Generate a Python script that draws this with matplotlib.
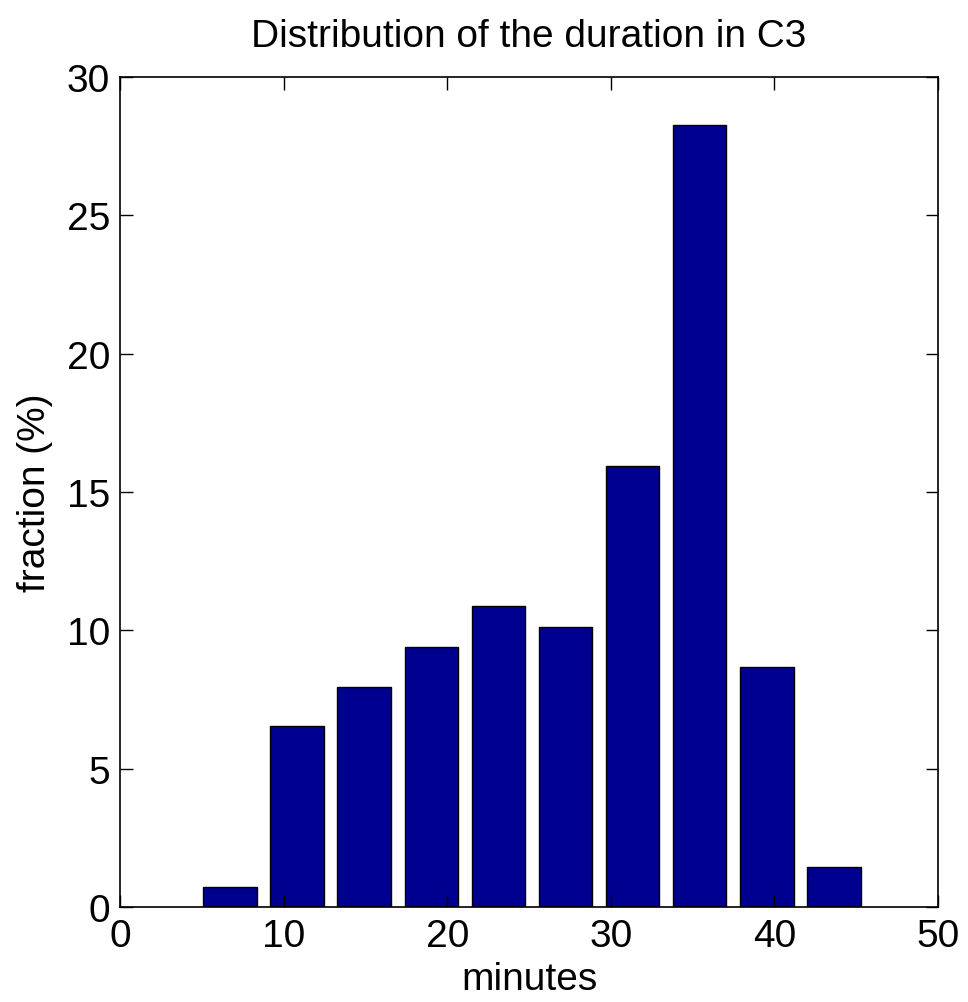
import numpy as np
import matplotlib
matplotlib.use('Agg')
import matplotlib.pyplot as plt

plt.rcParams['font.family'] = ['Liberation Sans', 'DejaVu Sans']

# bin centres (minutes) and fraction of sessions (%)
bin_centers = [6.73, 10.83, 14.93, 19.03, 23.13, 27.23, 31.33, 35.43, 39.53, 43.63]
fraction = [0.73, 6.53, 7.96, 9.41, 10.87, 10.13, 15.95, 28.25, 8.68, 1.46]
x_ticks = [0, 10, 20, 30, 40, 50]
y_ticks = [0, 5, 10, 15, 20, 25, 30]

fig = plt.figure(figsize=(9.68, 10.03), dpi=100)
ax = fig.add_axes([120 / 968, 95 / 1003, 818 / 968, 830 / 1003])

ax.bar(bin_centers, fraction, width=0.8 * 4.1, color='#000090',
       edgecolor='black', linewidth=1.0)

ax.set_xlim(0, 50)
ax.set_ylim(0, 30)
ax.set_xticks(x_ticks)
ax.set_yticks(y_ticks)
ax.tick_params(direction='in', length=9, width=1, top=True, right=True,
               labelsize=28)
ax.tick_params(axis='x', pad=8)
ax.tick_params(axis='y', pad=7)
for sp in ax.spines.values():
    sp.set_linewidth(1.2)

ax.set_title('Distribution of the duration in C3', fontsize=28, pad=22)
ax.set_xlabel('minutes', fontsize=28, labelpad=5)
ax.set_ylabel('fraction (%)', fontsize=28, labelpad=10)

fig.savefig('out.png', dpi=100)
